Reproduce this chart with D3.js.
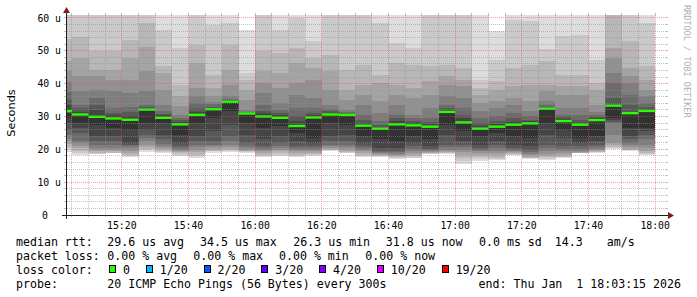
<!DOCTYPE html>
<html>
<head>
<meta charset="utf-8">
<script src="https://cdn.jsdelivr.net/npm/d3@7/dist/d3.min.js"></script>
<style>
  html, body { margin: 0; padding: 0; background: #fff; }
  svg { display: block; }
  text { font-family: "DejaVu Sans Mono", monospace; fill: #000; white-space: pre; }
</style>
</head>
<body>
<svg id="chart" width="697" height="297"></svg>
<script>
// 5 minute steps, start of each interval
const steps = ["15:00","15:05","15:10","15:15","15:20","15:25","15:30","15:35","15:40","15:45","15:50","15:55",
  "16:00","16:05","16:10","16:15","16:20","16:25","16:30","16:35","16:40","16:45","16:50","16:55",
  "17:00","17:05","17:10","17:15","17:20","17:25","17:30","17:35","17:40","17:45","17:50","17:55"];

// median rtt per step (us)
const medianRtt = [31.6, 30.6, 29.9, 29.4, 29.0, 32.1, 29.6, 27.6, 30.5, 32.2, 34.5, 30.9,
  30.0, 29.6, 27.1, 29.7, 30.6, 30.5, 27.2, 26.3, 27.6, 27.3, 26.9, 31.4,
  28.2, 26.3, 26.9, 27.5, 27.9, 32.4, 28.6, 27.5, 28.9, 33.3, 31.0, 31.7];

// 20 sorted pings per step (us)
const pings = [
  [19.2, 20.0, 20.8, 21.6, 22.4, 23.2, 24.5, 26.0, 28.0, 29.5, 31.9, 33.5, 35.0, 37.5, 40.5, 44.0, 47.0, 53.5, 63, 70],
  [18.4, 19.0, 19.6, 20.4, 20.9, 21.8, 22.4, 25.0, 26.5, 28.0, 30.9, 31.4, 32.6, 33.6, 37.7, 42.2, 47.8, 54.1, 64, 72],
  [18.5, 18.7, 18.9, 19.4, 19.9, 20.4, 21.4, 22.4, 24.0, 27.5, 30.2, 32.1, 33.6, 35.6, 38.2, 42.2, 44.3, 49.8, 63, 69],
  [18.8, 18.85, 18.9, 19.4, 19.9, 20.4, 21.4, 22.4, 24.0, 26.5, 29.7, 30.3, 31.1, 32.6, 37.7, 41.2, 44.3, 50.0, 62, 68],
  [17.7, 17.9, 18.4, 18.9, 19.6, 20.4, 20.9, 21.4, 21.9, 26.0, 29.3, 30.0, 31.5, 33.0, 37.2, 41.2, 47.8, 53.4, 63, 70],
  [19.3, 19.7, 20.2, 20.8, 21.4, 22.4, 23.5, 24.5, 26.0, 28.0, 32.3, 32.5, 32.8, 33.6, 37.7, 43.8, 51.2, 58.5, 64, 72],
  [19.0, 19.3, 19.6, 20.0, 20.4, 20.9, 21.6, 23.0, 24.5, 28.0, 29.9, 30.3, 30.8, 31.6, 33.6, 38.2, 43.2, 45.3, 56.4, 64],
  [18.0, 18.4, 18.8, 19.2, 19.6, 19.9, 20.4, 21.1, 21.9, 24.5, 27.8, 28.2, 28.8, 29.5, 30.6, 33.1, 36.1, 39.7, 50.9, 63],
  [17.5, 17.9, 18.4, 19.2, 19.9, 20.6, 21.4, 22.4, 24.0, 28.0, 30.8, 31.5, 32.5, 34.1, 36.1, 38.7, 46.3, 51.9, 63, 70],
  [19.0, 19.4, 19.6, 19.9, 20.4, 20.9, 21.4, 22.4, 25.5, 29.5, 32.4, 32.6, 33.0, 33.7, 34.5, 36.1, 38.7, 42.7, 58.0, 64],
  [19.2, 19.4, 19.9, 20.2, 20.6, 21.4, 22.4, 24.0, 27.5, 31.6, 34.7, 34.8, 35.0, 35.3, 36.1, 39.7, 44.3, 51.9, 58.5, 66],
  [18.9, 19.1, 19.4, 19.6, 19.9, 20.4, 20.9, 21.9, 24.5, 28.0, 31.1, 31.2, 31.3, 31.5, 32.1, 35.1, 38.2, 41.2, 43.2, 56.4],
  [17.8, 17.9, 18.4, 18.9, 19.4, 19.9, 20.4, 20.9, 23.0, 26.5, 30.3, 31.0, 31.8, 33.6, 37.2, 40.2, 43.8, 49.8, 63, 69],
  [17.9, 18.4, 18.9, 19.4, 19.9, 20.4, 20.9, 21.9, 24.0, 27.0, 29.9, 30.3, 31.0, 32.0, 34.1, 38.7, 43.2, 49.3, 56.4, 64],
  [17.7, 17.9, 18.4, 18.9, 19.4, 19.9, 20.4, 20.9, 22.4, 25.0, 27.4, 28.5, 30.0, 32.6, 36.6, 40.2, 46.3, 50.9, 60.0, 66],
  [18.1, 18.3, 18.7, 19.0, 19.4, 19.9, 20.4, 21.0, 22.0, 23.5, 30.0, 30.3, 31.0, 32.6, 35.6, 41.2, 44.8, 47.8, 52.9, 64],
  [19.6, 19.7, 19.9, 20.1, 20.4, 20.9, 21.4, 22.4, 24.0, 28.0, 30.9, 31.2, 31.8, 32.4, 33.6, 38.2, 43.8, 48.8, 63, 68],
  [18.8, 19.0, 19.3, 19.6, 20.1, 20.6, 21.4, 22.4, 24.5, 27.5, 30.8, 30.9, 31.1, 31.4, 32.1, 35.1, 38.2, 44.3, 63, 70],
  [17.8, 17.9, 18.4, 18.9, 19.4, 19.9, 20.4, 21.1, 21.9, 24.0, 27.5, 28.0, 29.0, 30.6, 33.6, 36.6, 39.7, 45.8, 63, 70],
  [17.8, 17.9, 18.1, 18.4, 18.6, 18.9, 19.2, 19.6, 20.4, 23.0, 26.6, 26.8, 27.5, 28.5, 31.1, 34.6, 40.2, 42.7, 58.5, 65],
  [17.1, 17.5, 17.8, 18.1, 18.4, 18.7, 19.1, 19.6, 20.4, 22.4, 27.9, 28.5, 29.5, 30.6, 33.6, 36.6, 39.7, 46.3, 52.4, 64],
  [17.3, 17.5, 17.9, 18.4, 18.9, 19.6, 20.2, 20.9, 21.9, 24.0, 27.6, 28.0, 28.5, 29.5, 30.6, 35.6, 38.7, 45.8, 50.9, 64],
  [18.6, 18.7, 18.8, 19.0, 19.2, 19.4, 19.7, 20.2, 20.9, 23.0, 27.2, 27.6, 28.4, 29.5, 32.6, 36.6, 40.7, 45.3, 63, 70],
  [18.6, 18.8, 19.0, 19.2, 19.4, 19.9, 20.6, 21.4, 24.5, 27.5, 31.7, 32.0, 32.6, 33.6, 36.1, 39.7, 42.2, 45.8, 63, 70],
  [15.5, 16.4, 17.4, 18.4, 19.2, 19.9, 20.6, 21.4, 22.4, 25.5, 28.6, 29.5, 30.5, 32.6, 35.6, 39.2, 41.2, 44.8, 63, 70],
  [16.5, 16.9, 17.6, 18.2, 18.8, 19.4, 19.9, 20.4, 21.4, 24.0, 26.6, 27.0, 28.0, 29.5, 31.6, 34.1, 36.6, 38.7, 41.2, 64],
  [16.6, 16.9, 17.4, 18.2, 18.9, 19.6, 20.4, 21.2, 22.4, 25.0, 27.2, 27.6, 28.5, 30.0, 32.6, 34.6, 38.2, 40.7, 47.3, 56.1],
  [18.3, 18.4, 18.6, 18.9, 19.2, 19.6, 19.9, 20.4, 21.4, 24.0, 27.8, 28.3, 29.5, 31.0, 33.6, 35.6, 39.2, 44.8, 59.5, 66],
  [17.1, 17.3, 17.5, 17.8, 18.2, 18.6, 19.2, 19.9, 20.9, 23.5, 28.2, 28.5, 29.0, 30.0, 31.6, 34.6, 39.7, 45.8, 59.0, 66],
  [16.8, 17.2, 17.6, 18.1, 18.7, 19.4, 20.4, 21.4, 24.5, 28.0, 32.7, 32.8, 33.0, 33.5, 34.6, 37.7, 39.7, 46.8, 50.4, 64],
  [17.5, 17.6, 17.7, 18.2, 18.8, 19.4, 20.2, 20.9, 23.5, 26.0, 28.9, 29.2, 29.8, 30.5, 32.6, 36.6, 39.2, 42.7, 54.4, 65],
  [18.8, 18.85, 18.9, 19.0, 19.2, 19.6, 20.2, 20.9, 21.9, 23.5, 27.8, 28.0, 29.0, 30.5, 32.6, 36.6, 39.2, 42.7, 54.9, 65],
  [19.0, 19.1, 19.2, 19.4, 19.7, 20.1, 20.6, 21.4, 22.4, 24.0, 29.2, 29.4, 29.8, 30.5, 31.5, 33.6, 38.2, 40.2, 47.3, 64],
  [20.2, 20.4, 20.6, 21.4, 22.0, 24.5, 28.0, 28.3, 28.8, 29.5, 33.6, 33.8, 35.6, 40.2, 43.2, 47.8, 50.9, 62, 66, 72],
  [19.6, 19.7, 19.8, 20.1, 20.6, 21.2, 21.9, 23.0, 24.0, 26.5, 31.2, 31.5, 33.6, 36.6, 40.2, 42.2, 44.8, 52.9, 63, 70],
  [18.3, 18.5, 18.9, 19.6, 20.4, 21.4, 23.0, 24.5, 25.5, 26.5, 32.0, 32.3, 33.0, 34.0, 36.1, 38.2, 41.2, 45.3, 58.5, 66]
];

const yTicks = [0, 10, 20, 30, 40, 50, 60];
const xTickLabels = ["15:20", "15:40", "16:00", "16:20", "16:40", "17:00", "17:20", "17:40", "18:00"];
const lossLabels = ["0", "1/20", "2/20", "3/20", "4/20", "10/20", "19/20"];
const lossColors = ["#26ff00", "#00b8ff", "#0059ff", "#5e00ff", "#7e00ff", "#dd00ff", "#ff0000"];

const rttLegend = ["29.6 us avg", "34.5 us max", "26.3 us min", "31.8 us now", "0.0 ms sd", "14.3", "am/s"];
const lossLegend = ["0.00 % avg", "0.00 % max", "0.00 % min", "0.00 % now"];
const probeText = "20 ICMP Echo Pings (56 Bytes) every 300s";
const endText = "end: Thu Jan  1 18:03:15 2026";

const parseHM = d3.timeParse("%H:%M");
const parseHMS = d3.timeParse("%H:%M:%S");
const stepMs = 5 * 60 * 1000;

const svg = d3.select("#chart");
const plotLeft = 66, plotRight = 666, plotTop = 15, plotBottom = 215;

const x = d3.scaleTime()
  .domain([parseHMS("15:03:15"), parseHMS("18:03:15")])
  .range([plotLeft, plotRight]);
const y = d3.scaleLinear()
  .domain([0, 60.9])
  .range([plotBottom, plotTop]);

// smoke colours: outer pair lightest, inner pair darkest
const smokeGray = i => { const c = Math.floor(190 / 10 * (10 - (i + 1))) + 50; return d3.rgb(c, c, c).toString(); };

svg.append("defs").append("clipPath").attr("id", "plotclip")
  .append("rect").attr("x", plotLeft).attr("y", plotTop)
  .attr("width", plotRight - plotLeft).attr("height", plotBottom - plotTop);

const plot = svg.append("g").attr("clip-path", "url(#plotclip)");

const cols = steps.map((s, k) => {
  const t0 = parseHM(s);
  return { t0: t0, t1: new Date(+t0 + stepMs), p: pings[k], med: medianRtt[k] };
});

for (let i = 0; i < 10; i++) {
  plot.append("g").selectAll("rect")
    .data(cols).enter().append("rect")
    .attr("x", d => x(d.t0))
    .attr("width", d => x(d.t1) - x(d.t0))
    .attr("y", d => y(d.p[19 - i]))
    .attr("height", d => y(d.p[i]) - y(d.p[19 - i]))
    .attr("fill", smokeGray(i))
    .attr("shape-rendering", "crispEdges");
}

// grid, drawn on top of the smoke like rrdtool does
const gridCol = "rgba(143,143,143,0.55)", mgridCol = "rgba(222,79,79,0.5)";
const grid = svg.append("g");
const px = v => Math.floor(v) + 0.5;

d3.range(2, 61, 2).forEach(v => {
  const major = v % 10 === 0;
  const yy = px(y(v)), col = major ? mgridCol : gridCol;
  grid.append("line").attr("x1", plotLeft - 2).attr("x2", plotLeft).attr("y1", yy).attr("y2", yy).attr("stroke", col);
  grid.append("line").attr("x1", plotRight).attr("x2", plotRight + 2).attr("y1", yy).attr("y2", yy).attr("stroke", col);
  grid.append("line").attr("x1", plotLeft + 1).attr("x2", plotRight).attr("y1", yy).attr("y2", yy)
    .attr("stroke", col).attr("stroke-dasharray", "1,1").attr("shape-rendering", "crispEdges");
});

const majorTimes = xTickLabels.map(parseHM);
const minorTimes = d3.timeMinute.every(5).range(x.domain()[0], x.domain()[1]);
minorTimes.forEach(t => {
  const major = majorTimes.some(m => +m === +t);
  const xx = px(x(t)), col = major ? mgridCol : gridCol;
  grid.append("line").attr("x1", xx).attr("x2", xx).attr("y1", plotTop - 2).attr("y2", plotTop).attr("stroke", col);
  grid.append("line").attr("x1", xx).attr("x2", xx).attr("y1", plotBottom).attr("y2", plotBottom + 2).attr("stroke", col);
  grid.append("line").attr("x1", xx).attr("x2", xx).attr("y1", plotTop).attr("y2", plotBottom)
    .attr("stroke", col).attr("stroke-dasharray", "1,1").attr("shape-rendering", "crispEdges");
});

// median line
plot.append("g").selectAll("line")
  .data(cols).enter().append("line")
  .attr("x1", d => x(d.t0))
  .attr("x2", d => x(d.t1))
  .attr("y1", d => y(d.med))
  .attr("y2", d => y(d.med))
  .attr("stroke", lossColors[0])
  .attr("stroke-width", 2.4);

// axes
const axisCol = "#1f1f1f", arrowCol = "#801f1f";
svg.append("line").attr("x1", plotLeft - 4).attr("x2", plotRight + 4)
  .attr("y1", plotBottom + 0.5).attr("y2", plotBottom + 0.5)
  .attr("stroke", axisCol).attr("shape-rendering", "crispEdges");
svg.append("line").attr("x1", plotLeft + 0.5).attr("x2", plotLeft + 0.5)
  .attr("y1", plotBottom + 4).attr("y2", plotTop - 4)
  .attr("stroke", axisCol).attr("shape-rendering", "crispEdges");
svg.append("path")
  .attr("d", `M${plotRight + 2},${plotBottom - 3} L${plotRight + 8},${plotBottom + 0.5} L${plotRight + 2},${plotBottom + 4} Z`)
  .attr("fill", arrowCol);
svg.append("path")
  .attr("d", `M${plotLeft - 3},${plotTop - 2} L${plotLeft + 0.5},${plotTop - 8} L${plotLeft + 4},${plotTop - 2} Z`)
  .attr("fill", arrowCol);

// y labels
svg.append("g").selectAll("text")
  .data(yTicks).enter().append("text")
  .attr("x", d => d === 0 ? 48 : 61)
  .attr("y", d => y(d) + 3.6)
  .attr("text-anchor", "end")
  .style("font-size", "9.8px")
  .text(d => d === 0 ? "0" : d + " u");

// x labels
svg.append("g").selectAll("text")
  .data(xTickLabels).enter().append("text")
  .attr("x", d => x(parseHM(d)))
  .attr("y", 228.5)
  .attr("text-anchor", "middle")
  .style("font-size", "9.8px")
  .text(d => d);

svg.append("text")
  .attr("transform", "translate(15,113) rotate(-90)")
  .attr("text-anchor", "middle")
  .style("font-family", "'DejaVu Sans', sans-serif")
  .style("font-size", "11.3px")
  .text("Seconds");

svg.append("text")
  .attr("transform", "translate(684,5) rotate(90)")
  .style("font-size", "8.5px")
  .style("fill", "#b0b0b0")
  .text("RRDTOOL / TOBI OETIKER");

// legend
const lg = svg.append("g").style("font-size", "11.6px");
const rttX = [107.3, 200, 293.3, 385.8, 479, 554.7, 606.7];
const lossX = [107.3, 193.3, 279, 365.3];
lg.append("text").attr("x", 16).attr("y", 245.5).text("median rtt:");
rttLegend.forEach((s, i) => lg.append("text").attr("x", rttX[i]).attr("y", 245.5).text(s));
lg.append("text").attr("x", 16).attr("y", 259.5).text("packet loss:");
lossLegend.forEach((s, i) => lg.append("text").attr("x", lossX[i]).attr("y", 259.5).text(s));
lg.append("text").attr("x", 16).attr("y", 273.5).text("loss color:");
let lx = 109;
lossLabels.forEach((s, i) => {
  lg.append("rect").attr("x", Math.round(lx) + 0.5).attr("y", 265.5).attr("width", 6).attr("height", 7)
    .attr("fill", lossColors[i]).attr("stroke", "#000").attr("shape-rendering", "crispEdges");
  lg.append("text").attr("x", lx + 14).attr("y", 273.5).text(s);
  lx += 14 + s.length * 7.02 + 15.7;
});
lg.append("text").attr("x", 16).attr("y", 287.5).text("probe:");
lg.append("text").attr("x", 107.3).attr("y", 287.5).text(probeText);
lg.append("text").attr("x", 681).attr("y", 287.5).attr("text-anchor", "end").text(endText);
</script>
</body>
</html>
